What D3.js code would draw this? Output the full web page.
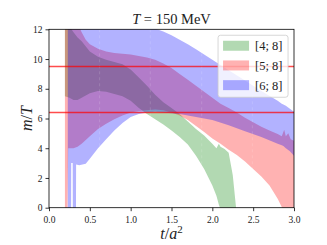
<!DOCTYPE html>
<html>
<head>
<meta charset="utf-8">
<script src="https://cdn.jsdelivr.net/npm/d3@7"></script>
<style>
  body { margin: 0; background: #fff; }
  text { font-family: "Liberation Serif", "DejaVu Serif", serif; fill: #222; }
</style>
</head>
<body>
<div id="chart"></div>
<script>
// band [4;8] (green)
const tGreen  = [0.195, 0.25, 0.3, 0.35, 0.4, 0.5, 0.6, 0.7, 0.8, 0.9, 1.0, 1.1, 1.2, 1.3, 1.4, 1.5, 1.6, 1.7, 1.8, 1.9, 2.0, 2.05, 2.08, 2.1, 2.15, 2.2, 2.25, 2.3, 2.4];
const greenHi = [14, 12.2, 11.8, 11.45, 11.2, 10.5, 10.15, 9.95, 9.8, 9.65, 9.3, 8.75, 8.2, 7.6, 7.1, 6.7, 6.3, 5.8, 5.3, 4.85, 4.3, 4.0, 4.3, 4.1, 3.95, 3.7, 2.2, -0.5, -3];
const greenLo = [7.5, 7.4, 7.25, 7.25, 7.4, 7.7, 7.85, 7.8, 7.65, 7.5, 7.2, 6.7, 6.3, 5.95, 5.6, 5.2, 4.75, 4.25, 3.5, 2.6, 1.5, 0.8, 0.2, -0.1, -0.8, -1.5, -2.2, -3, -4];

// band [5;8] (red)
const tRed  = [0.195, 0.225, 0.235, 0.3, 0.35, 0.4, 0.45, 0.5, 0.6, 0.7, 0.8, 0.9, 1.0, 1.1, 1.2, 1.3, 1.4, 1.5, 1.6, 1.7, 1.8, 1.9, 2.0, 2.1, 2.2, 2.3, 2.4, 2.5, 2.6, 2.7, 2.8, 2.85, 2.88, 2.9, 2.93, 2.96, 3.0];
const redHi = [14, 14, 14, 13, 12.4, 11.8, 11.3, 11.0, 10.7, 10.5, 10.4, 10.35, 10.3, 10.2, 10.1, 9.95, 9.7, 9.4, 9.0, 8.6, 8.2, 7.8, 7.4, 7.0, 6.7, 6.4, 6.05, 5.75, 5.45, 5.2, 4.95, 4.8, 5.25, 4.8, 5.0, 4.6, 4.5];
const redLo = [-1, -1, 4.0, 4.0, 4.1, 4.3, 4.55, 4.8, 5.3, 5.65, 5.95, 6.2, 6.4, 6.5, 6.55, 6.6, 6.55, 6.4, 6.2, 5.9, 5.5, 5.1, 4.65, 4.3, 3.9, 3.55, 3.1, 2.6, 2.1, 1.5, 0.6, 0.05, -0.3, -0.5, -0.8, -1.1, -1.6];

// band [6;8] (blue)
const tBlue  = [0.23, 0.27, 0.272, 0.29, 0.292, 0.33, 0.332, 0.37, 0.45, 0.5, 0.6, 0.7, 0.8, 0.9, 1.0, 1.1, 1.2, 1.3, 1.4, 1.5, 1.6, 1.7, 1.8, 1.9, 2.0, 2.2, 2.4, 2.6, 2.8, 2.85, 2.87, 2.9, 2.95, 3.0];
const blueHi = [14, 14, 14, 14, 14, 14, 14, 14, 13.8, 13.6, 13.3, 13.1, 12.9, 12.8, 12.7, 12.5, 12.3, 12.05, 11.85, 11.6, 11.3, 11.0, 10.65, 10.3, 9.95, 9.25, 8.55, 7.85, 7.2, 7.0, 6.95, 6.85, 6.65, 6.45];
const blueLo = [-1, -1, 3.0, 3.0, -1, -1, 2.9, 2.85, 2.95, 3.3, 4.0, 4.6, 5.2, 5.7, 6.1, 6.3, 6.4, 6.45, 6.4, 6.35, 6.3, 6.2, 6.1, 6.0, 5.9, 5.55, 5.15, 4.75, 4.3, 4.2, 4.15, 4.0, 3.8, 3.5];

const hLines = [9.5, 6.4];
const xTicks = [0, 0.5, 1, 1.5, 2, 2.5, 3];
const yTicks = [0, 2, 4, 6, 8, 10, 12];
const dashT = [0.62, 1.24, 1.87, 2.49];
const legendLabels = ['[4; 8]', '[5; 8]', '[6; 8]'];
const colors = ['green', 'red', 'blue'];

const W = 327, H = 245;
const margin = { top: 29.3, right: 33, bottom: 37.3, left: 49 };
const width = W - margin.left - margin.right,
      height = H - margin.top - margin.bottom;

const svg = d3.select('#chart').append('svg')
    .attr('width', W)
    .attr('height', H);

const g = svg.append('g')
    .attr('transform', `translate(${margin.left},${margin.top})`);

const x = d3.scaleLinear().domain([0, 3]).range([0, width]);
const y = d3.scaleLinear().domain([0, 12]).range([height, 0]);

g.append('clipPath').attr('id', 'clip')
  .append('rect').attr('width', width).attr('height', height);

const plot = g.append('g').attr('clip-path', 'url(#clip)');

const bands = [
  { t: tGreen, lo: greenLo, hi: greenHi },
  { t: tRed, lo: redLo, hi: redHi },
  { t: tBlue, lo: blueLo, hi: blueHi }
];

const area = d3.area()
    .x(d => x(d[0]))
    .y0(d => y(d[1]))
    .y1(d => y(d[2]));

bands.forEach((b, i) => {
  const pts = b.t.map((t, j) => [t, b.lo[j], b.hi[j]]);
  plot.append('path')
    .datum(pts)
    .attr('d', area)
    .attr('fill', colors[i])
    .attr('fill-opacity', 0.3);
});

// faint dashed verticals
plot.selectAll('.vdash')
  .data(dashT)
  .enter().append('line')
    .attr('x1', d => x(d)).attr('x2', d => x(d))
    .attr('y1', 0).attr('y2', height)
    .attr('stroke', '#fff')
    .attr('stroke-opacity', 0.15)
    .attr('stroke-width', 1)
    .attr('stroke-dasharray', '3,3');

// red horizontal lines
plot.selectAll('.hline')
  .data(hLines)
  .enter().append('line')
    .attr('x1', 0).attr('x2', width)
    .attr('y1', d => y(d)).attr('y2', d => y(d))
    .attr('stroke', 'red')
    .attr('stroke-opacity', 0.7)
    .attr('stroke-width', 1.4);

// axes
const xAxis = g.append('g')
    .attr('transform', `translate(0,${height})`)
    .call(d3.axisBottom(x).tickValues(xTicks).tickFormat(d3.format('.1f')).tickSize(3.5).tickSizeOuter(0));
const yAxis = g.append('g')
    .call(d3.axisLeft(y).tickValues(yTicks).tickFormat(d3.format('d')).tickSize(3.5).tickSizeOuter(0));

[xAxis, yAxis].forEach(a => {
  a.select('.domain').remove();
  a.selectAll('line').attr('stroke', '#000').attr('stroke-width', 0.8);
  a.selectAll('text').style('font-size', '9.5px').style('font-family', '"Liberation Serif", serif').attr('fill', '#333');
});
xAxis.selectAll('text').attr('dy', '0.9em');

g.append('rect')
    .attr('width', width).attr('height', height)
    .attr('fill', 'none').attr('stroke', '#000').attr('stroke-width', 0.8);

// legend
const leg = g.append('g').attr('transform', `translate(${x(2.07)},${y(11.6)})`);
leg.append('rect')
    .attr('width', 70).attr('height', 62)
    .attr('rx', 2.5)
    .attr('fill', '#fff').attr('fill-opacity', 0.8)
    .attr('stroke', '#ccc').attr('stroke-width', 0.8);
legendLabels.forEach((lab, i) => {
  const row = leg.append('g').attr('transform', `translate(0,${10.5 + i * 19.7})`);
  row.append('rect')
    .attr('x', 5).attr('y', -5).attr('width', 26).attr('height', 10)
    .attr('fill', colors[i]).attr('fill-opacity', 0.3);
  row.append('text')
    .attr('x', 37).attr('y', 4.5)
    .style('font-size', '12.5px')
    .text(lab);
});

// title and labels
const title = svg.append('text')
    .attr('x', margin.left + width / 2).attr('y', 24)
    .attr('text-anchor', 'middle')
    .style('font-size', '14.5px');
title.append('tspan').style('font-style', 'italic').text('T');
title.append('tspan').text(' = 150 MeV');

const xl = svg.append('text')
    .attr('x', margin.left + width / 2).attr('y', 239)
    .attr('text-anchor', 'middle')
    .style('font-size', '16px');
xl.append('tspan').style('font-style', 'italic').text('t');
xl.append('tspan').text('/');
xl.append('tspan').style('font-style', 'italic').text('a');
xl.append('tspan').attr('dy', -6).style('font-size', '11px').text('2');

const yl = svg.append('text')
    .attr('transform', `translate(32,${margin.top + height / 2}) rotate(-90)`)
    .attr('text-anchor', 'middle')
    .style('font-size', '16px');
yl.append('tspan').style('font-style', 'italic').text('m');
yl.append('tspan').text('/');
yl.append('tspan').style('font-style', 'italic').text('T');
</script>
</body>
</html>
